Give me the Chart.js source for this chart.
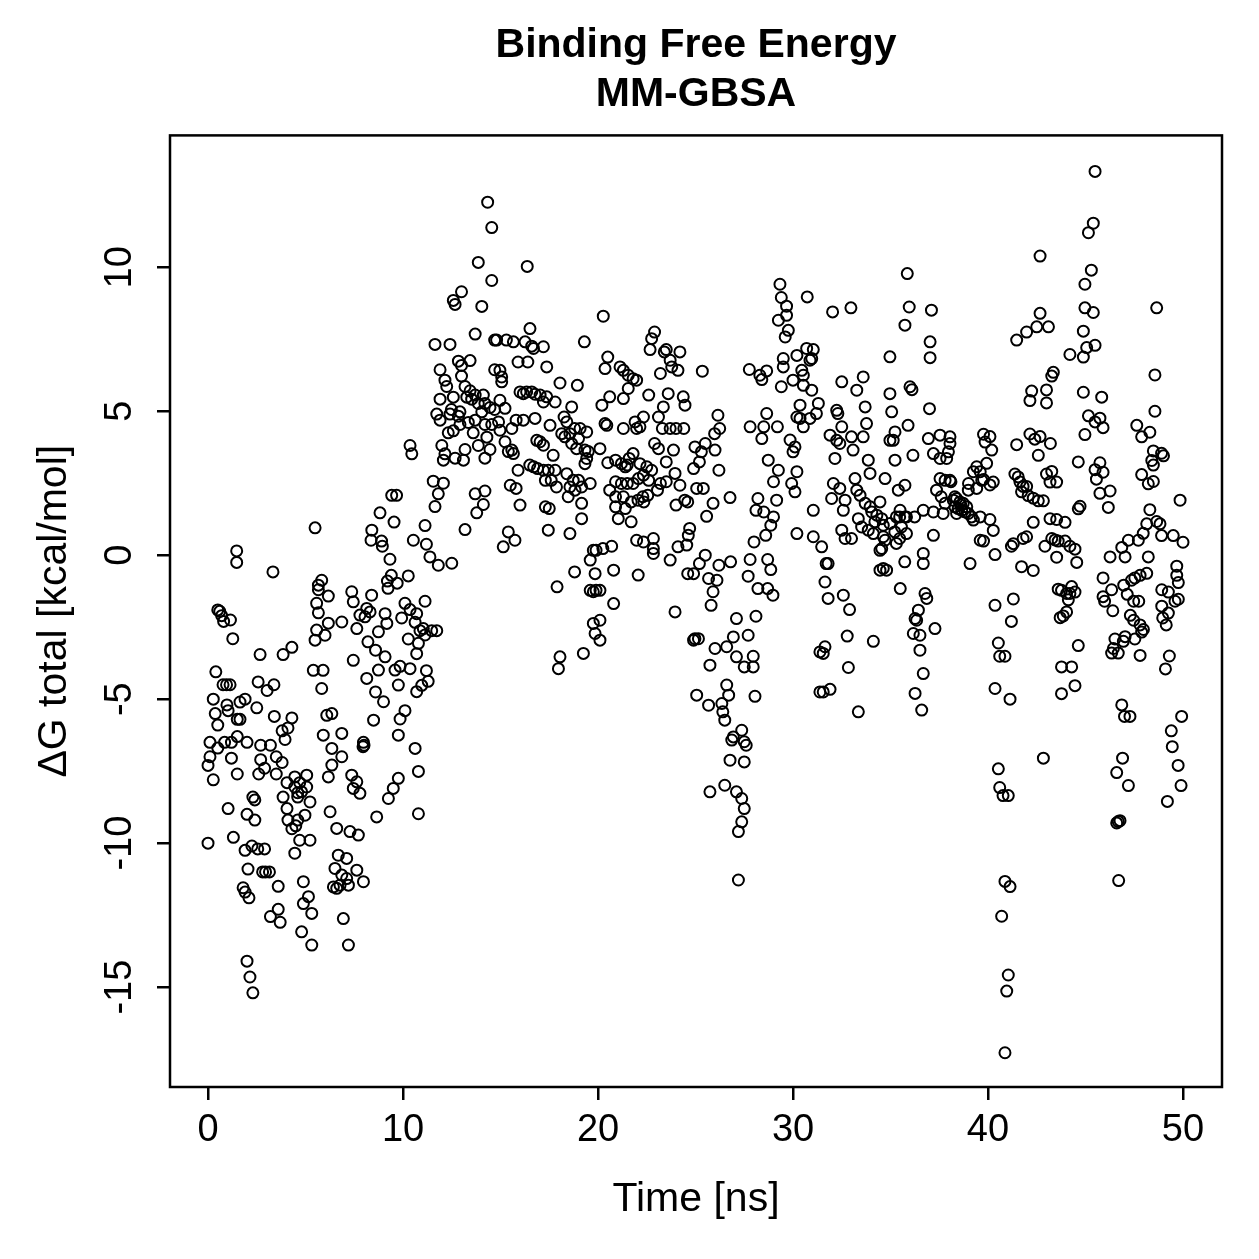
<!DOCTYPE html>
<html><head><meta charset="utf-8">
<style>html,body{margin:0;padding:0;background:#fff;} canvas{display:block;}</style>
<script src="https://cdn.jsdelivr.net/npm/chart.js@4.4.1/dist/chart.umd.min.js"></script>
</head><body>
<canvas id="c" width="1259" height="1259"></canvas>
<script>
const titleLines = ['Binding Free Energy', 'MM-GBSA'];
const xAxisTitle = 'Time [ns]';
const yAxisTitle = 'ΔG total [kcal/mol]';
const xTickValues = [0, 10, 20, 30, 40, 50];
const yTickValues = [-15, -10, -5, 0, 5, 10];

// [time (ns), ΔG total (kcal/mol)], 5 ns per array
const pts00to05 = [[0.00,-10.00],[0.00,-7.30],[0.10,-7.00],[0.10,-6.50],[0.27,-5.00],[0.27,-7.80],[0.37,-5.50],[0.40,-4.05],[0.50,-1.90],[0.50,-5.90],[0.50,-6.70],[0.60,-1.95],[0.70,-2.10],[0.77,-4.50],[0.80,-2.30],[0.85,-6.50],[0.95,-4.50],[0.97,-5.20],[1.03,-5.40],[1.03,-8.80],[1.13,-4.50],[1.15,-2.25],[1.20,-6.50],[1.20,-7.05],[1.27,-2.90],[1.30,-9.80],[1.47,0.15],[1.47,-0.25],[1.50,-5.70],[1.50,-6.30],[1.50,-7.60],[1.64,-5.10],[1.64,-5.70],[1.80,-11.55],[1.90,-5.00],[1.90,-10.25],[1.90,-11.70],[2.00,-6.50],[2.00,-9.00],[2.00,-14.10],[2.05,-10.90],[2.10,-11.90],[2.15,-14.65],[2.25,-10.10],[2.30,-8.40],[2.30,-15.20],[2.40,-8.50],[2.40,-9.20],[2.50,-5.30],[2.55,-10.20],[2.57,-4.40],[2.60,-7.60],[2.67,-3.45],[2.70,-6.60],[2.70,-7.10],[2.80,-11.00],[2.90,-7.40],[2.90,-10.20],[2.95,-11.00],[3.03,-4.70],[3.15,-11.00],[3.20,-6.60],[3.20,-12.55],[3.33,-0.58],[3.38,-4.50],[3.40,-5.60],[3.50,-7.00],[3.50,-7.60],[3.60,-11.50],[3.60,-12.30],[3.70,-12.75],[3.80,-6.10],[3.80,-7.20],[3.85,-3.45],[3.85,-8.40],[3.95,-6.40],[4.05,-7.90],[4.05,-8.80],[4.10,-6.00],[4.10,-9.20],[4.30,-3.20],[4.30,-5.65],[4.30,-9.50],[4.45,-7.70],[4.45,-8.05],[4.45,-10.35],[4.50,-9.40],[4.60,-8.25],[4.60,-8.40],[4.60,-9.20],[4.70,-7.90],[4.70,-9.90]];
const pts05to10 = [[4.80,-8.22],[4.80,-13.08],[4.89,-11.34],[4.89,-12.10],[4.97,-9.03],[5.06,-7.64],[5.06,-8.05],[5.15,-11.86],[5.23,-8.57],[5.23,-9.90],[5.32,-12.44],[5.32,-13.54],[5.40,-4.00],[5.49,0.95],[5.49,-2.95],[5.57,-1.67],[5.57,-2.60],[5.66,-1.04],[5.66,-1.20],[5.66,-2.00],[5.83,-0.87],[5.83,-4.63],[5.90,-4.00],[5.91,-6.25],[6.00,-2.78],[6.09,-5.56],[6.17,-1.42],[6.17,-2.36],[6.17,-7.70],[6.26,-8.91],[6.35,-5.50],[6.35,-6.71],[6.35,-7.29],[6.43,-11.52],[6.51,-10.88],[6.60,-9.49],[6.60,-11.57],[6.68,-10.42],[6.77,-11.46],[6.86,-2.32],[6.86,-6.19],[6.86,-7.00],[6.86,-11.11],[6.94,-12.62],[7.11,-10.53],[7.11,-11.23],[7.20,-11.46],[7.20,-13.54],[7.28,-9.60],[7.37,-1.27],[7.37,-7.64],[7.45,-1.62],[7.45,-3.65],[7.45,-8.10],[7.63,-2.55],[7.63,-7.87],[7.63,-10.94],[7.71,-9.72],[7.79,-2.08],[7.79,-8.27],[7.95,-6.65],[7.97,-6.50],[7.97,-11.34],[8.00,-6.60],[8.05,-2.14],[8.14,-1.85],[8.14,-4.28],[8.20,-3.01],[8.31,-1.97],[8.36,0.52],[8.39,-1.39],[8.40,0.87],[8.49,-5.73],[8.59,-3.30],[8.59,-4.75],[8.65,-9.09],[8.74,-2.66],[8.74,-3.99],[8.82,1.47],[8.90,0.49],[8.94,0.31],[9.00,-5.09],[9.08,-2.03],[9.08,-3.53],[9.17,-2.37],[9.20,-0.90],[9.23,-1.15],[9.25,-8.45],[9.33,-0.14],[9.40,-0.70],[9.42,2.08],[9.50,-8.10],[9.54,1.15],[9.59,-3.99],[9.67,2.08],[9.70,-0.97],[9.76,-4.51],[9.76,-6.25],[9.76,-7.75]];
const pts10to15 = [[9.85,-3.86],[9.85,-5.69],[9.93,-2.18],[10.10,-1.67],[10.10,-5.40],[10.27,-0.72],[10.27,-2.91],[10.36,-1.89],[10.36,-3.94],[10.36,3.81],[10.45,3.52],[10.53,0.52],[10.62,-2.33],[10.62,-6.71],[10.70,-2.03],[10.70,-3.42],[10.70,-4.74],[10.79,-3.06],[10.79,-7.51],[10.79,-8.98],[10.87,-2.62],[10.96,-4.52],[11.04,-2.55],[11.13,-1.60],[11.13,-2.77],[11.13,1.03],[11.20,-4.01],[11.20,0.38],[11.29,-4.38],[11.38,-0.06],[11.47,-2.62],[11.55,2.57],[11.64,1.69],[11.64,7.32],[11.73,-2.62],[11.73,4.90],[11.81,2.13],[11.81,-0.35],[11.90,6.44],[11.90,5.42],[11.90,4.69],[11.99,3.81],[12.07,2.50],[12.07,3.30],[12.15,6.08],[12.15,3.52],[12.24,5.86],[12.32,4.25],[12.41,7.32],[12.41,4.90],[12.48,5.06],[12.50,-0.28],[12.58,8.85],[12.58,5.49],[12.58,4.32],[12.67,8.71],[12.67,3.37],[12.84,6.74],[12.84,4.83],[12.92,4.98],[12.92,4.54],[13.00,9.15],[13.00,6.59],[13.00,6.22],[13.10,3.30],[13.18,5.86],[13.18,3.67],[13.18,0.89],[13.27,5.49],[13.35,4.61],[13.44,6.76],[13.44,5.71],[13.52,5.42],[13.60,4.25],[13.70,7.68],[13.70,5.56],[13.70,4.69],[13.70,2.13],[13.78,1.47],[13.86,10.17],[13.86,5.27],[13.86,3.81],[14.04,8.64],[14.04,4.98],[14.12,5.56],[14.12,1.76],[14.20,5.27],[14.20,4.54],[14.20,3.37],[14.20,2.23],[14.30,4.10],[14.34,12.26],[14.46,5.13],[14.46,3.67],[14.55,11.38],[14.55,9.54],[14.55,4.54],[14.70,7.47],[14.70,6.44],[14.70,5.06]];
const pts15to20 = [[14.80,7.47],[14.90,4.63],[14.97,6.42],[14.97,5.38],[14.97,4.34],[15.06,6.19],[15.06,6.02],[15.14,0.29],[15.23,5.10],[15.23,3.94],[15.30,7.47],[15.40,3.60],[15.40,0.81],[15.50,2.43],[15.58,4.40],[15.58,3.65],[15.66,7.41],[15.66,3.53],[15.74,0.52],[15.80,4.69],[15.80,2.32],[15.90,6.71],[15.90,2.95],[16.00,5.67],[16.00,1.74],[16.17,5.61],[16.17,4.69],[16.26,7.41],[16.34,5.67],[16.37,10.03],[16.40,6.71],[16.50,3.13],[16.51,7.87],[16.60,7.26],[16.60,5.67],[16.69,7.18],[16.70,3.07],[16.77,5.59],[16.77,4.75],[16.86,3.99],[16.90,3.01],[17.03,5.56],[17.03,3.94],[17.20,7.24],[17.20,5.32],[17.20,3.82],[17.20,2.95],[17.30,2.60],[17.30,1.68],[17.37,6.54],[17.37,5.50],[17.45,2.95],[17.45,0.87],[17.50,1.62],[17.54,4.51],[17.60,2.60],[17.70,3.47],[17.80,5.32],[17.80,2.95],[17.87,2.37],[17.90,-1.10],[17.97,-3.94],[18.05,5.98],[18.05,-3.53],[18.14,4.22],[18.26,4.80],[18.30,4.11],[18.40,4.63],[18.40,2.83],[18.47,2.03],[18.56,4.22],[18.56,2.37],[18.56,0.75],[18.65,5.15],[18.65,3.88],[18.73,2.60],[18.80,4.40],[18.80,-0.58],[18.82,2.26],[18.90,3.70],[18.94,5.90],[19.00,4.05],[19.00,2.60],[19.08,4.40],[19.16,2.37],[19.16,1.80],[19.16,1.27],[19.25,-3.41],[19.30,7.41],[19.33,3.65],[19.33,3.18],[19.42,4.28],[19.42,3.36],[19.50,3.60],[19.60,2.49],[19.60,-0.17],[19.60,-1.22],[19.76,0.17],[19.76,-1.27],[19.76,-2.37]];
const pts20to25 = [[19.85,-0.64],[19.85,-2.72],[19.90,0.17],[19.90,-1.22],[20.10,3.70],[20.10,-1.22],[20.10,-2.26],[20.10,-2.95],[20.20,5.21],[20.25,0.23],[20.27,8.30],[20.36,6.48],[20.36,4.57],[20.45,4.51],[20.50,6.88],[20.50,3.21],[20.60,5.50],[20.60,2.26],[20.70,0.31],[20.80,-0.52],[20.80,-1.68],[20.90,3.30],[20.90,2.55],[20.90,2.03],[20.90,1.68],[21.04,1.27],[21.13,6.54],[21.20,3.18],[21.20,2.49],[21.30,6.42],[21.30,5.44],[21.30,4.40],[21.30,2.03],[21.40,3.07],[21.40,1.62],[21.50,3.13],[21.50,2.49],[21.55,6.25],[21.55,5.79],[21.60,3.36],[21.70,1.85],[21.70,1.16],[21.80,6.13],[21.80,3.53],[21.80,2.49],[21.90,4.63],[21.98,6.08],[21.98,4.40],[21.98,0.52],[22.05,1.91],[22.06,-0.69],[22.07,2.66],[22.15,4.46],[22.15,3.18],[22.30,2.03],[22.33,4.80],[22.33,2.78],[22.33,0.46],[22.35,1.85],[22.50,3.07],[22.55,2.08],[22.60,5.56],[22.60,2.60],[22.67,7.14],[22.75,7.52],[22.75,2.95],[22.84,0.58],[22.84,0.23],[22.84,0.06],[22.90,7.75],[22.90,3.88],[23.05,2.26],[23.10,4.80],[23.10,3.70],[23.20,6.31],[23.20,2.49],[23.30,4.40],[23.35,5.15],[23.40,7.06],[23.50,7.14],[23.50,3.24],[23.50,2.55],[23.60,5.61],[23.70,6.77],[23.70,4.40],[23.70,-0.17],[23.78,6.54],[23.87,3.65],[23.95,2.84],[23.95,-1.97],[24.00,4.40],[24.00,1.74],[24.10,6.42],[24.10,0.29],[24.20,7.06],[24.20,2.43],[24.37,5.50],[24.40,4.40],[24.45,1.91],[24.46,5.21],[24.55,0.35],[24.60,1.85],[24.60,-0.64],[24.63,0.69],[24.70,0.93]];
const pts25to30 = [[24.90,3.01],[24.90,-0.64],[24.90,-2.95],[24.97,3.76],[24.97,-2.90],[25.06,2.32],[25.06,-4.86],[25.15,-2.90],[25.20,3.24],[25.20,-0.29],[25.30,3.59],[25.35,6.39],[25.40,2.32],[25.50,3.88],[25.50,0.00],[25.57,1.35],[25.67,-0.81],[25.67,-5.21],[25.74,-3.82],[25.74,-8.22],[25.80,-1.74],[25.90,1.80],[25.90,-1.27],[25.98,4.22],[26.00,3.65],[26.00,-3.24],[26.10,-0.87],[26.15,4.86],[26.20,2.95],[26.20,-0.35],[26.24,4.40],[26.35,-5.15],[26.40,-5.44],[26.50,-5.73],[26.50,-7.99],[26.60,-3.18],[26.60,-4.51],[26.70,-4.86],[26.77,2.00],[26.77,-7.12],[26.80,-0.23],[26.86,-6.42],[26.94,-2.84],[26.94,-6.31],[27.10,-2.20],[27.10,-3.53],[27.10,-8.22],[27.20,-9.60],[27.20,-11.28],[27.37,-6.08],[27.37,-8.45],[27.37,-9.26],[27.50,-3.88],[27.50,-6.48],[27.50,-7.18],[27.50,-8.80],[27.60,-6.60],[27.70,-2.78],[27.70,-0.73],[27.76,6.45],[27.80,4.46],[27.80,-0.15],[27.96,-3.51],[27.96,-3.88],[28.00,0.46],[28.05,-4.90],[28.10,1.56],[28.10,-2.12],[28.20,1.97],[28.20,-1.16],[28.30,6.25],[28.40,6.10],[28.40,4.05],[28.50,4.46],[28.50,1.50],[28.60,0.69],[28.65,6.40],[28.65,4.92],[28.70,-0.15],[28.70,-1.16],[28.73,3.30],[28.86,1.04],[28.86,-0.50],[28.97,-1.39],[29.00,2.55],[29.00,1.33],[29.16,1.91],[29.20,4.46],[29.25,8.16],[29.25,2.95],[29.33,9.41],[29.40,8.95],[29.40,5.85],[29.50,6.83],[29.50,6.54],[29.60,7.58],[29.67,8.65],[29.67,8.33],[29.76,7.81]];
const pts30to35 = [[29.85,4.00],[29.93,2.49],[30.00,6.08],[30.00,3.59],[30.10,3.76],[30.10,2.20],[30.20,6.94],[30.20,4.80],[30.20,2.90],[30.20,0.75],[30.36,5.21],[30.36,4.75],[30.45,6.42],[30.53,6.25],[30.53,5.90],[30.53,4.46],[30.70,7.18],[30.73,8.97],[30.87,6.77],[30.87,4.75],[30.96,6.83],[30.96,5.73],[31.04,7.14],[31.04,1.56],[31.04,0.64],[31.20,4.92],[31.30,5.27],[31.38,-3.36],[31.38,-4.75],[31.47,0.29],[31.55,-3.41],[31.55,-4.75],[31.64,-0.93],[31.64,-3.18],[31.70,-0.29],[31.80,-0.29],[31.80,-1.50],[31.90,4.17],[31.90,-4.66],[31.98,1.97],[32.03,8.45],[32.07,2.49],[32.15,3.36],[32.24,5.03],[32.24,3.99],[32.30,4.92],[32.40,3.88],[32.40,2.32],[32.50,6.02],[32.50,4.46],[32.50,0.87],[32.58,1.56],[32.58,-1.39],[32.67,1.91],[32.67,0.58],[32.78,-2.81],[32.84,-3.90],[32.90,-1.89],[32.97,8.59],[33.00,4.11],[33.00,0.58],[33.08,3.65],[33.18,2.66],[33.27,5.73],[33.27,2.26],[33.35,1.27],[33.35,-5.44],[33.44,2.08],[33.52,0.98],[33.60,6.19],[33.60,4.11],[33.70,5.15],[33.70,1.80],[33.77,4.57],[33.86,3.30],[33.86,0.87],[33.95,2.84],[33.95,1.68],[34.04,1.50],[34.12,0.75],[34.12,-2.99],[34.20,1.16],[34.30,1.39],[34.46,1.85],[34.46,0.17],[34.46,-0.52],[34.55,1.27],[34.55,0.23],[34.63,1.04],[34.63,0.64],[34.63,-0.46],[34.72,2.66],[34.72,0.52],[34.80,-0.52],[34.97,6.89],[34.97,5.61],[34.97,3.99],[34.97,1.10],[35.06,4.98]];
const pts35to40 = [[35.14,3.99],[35.22,0.81],[35.23,4.28],[35.23,3.30],[35.30,0.41],[35.30,1.33],[35.40,2.26],[35.47,1.33],[35.47,0.58],[35.49,1.56],[35.50,-1.16],[35.56,0.98],[35.73,1.33],[35.73,-0.23],[35.74,7.99],[35.74,2.43],[35.82,1.33],[35.82,0.75],[35.86,9.78],[35.90,4.51],[35.96,8.62],[36.00,5.85],[36.10,5.75],[36.15,3.47],[36.17,-2.72],[36.24,1.33],[36.26,-2.20],[36.26,-4.80],[36.34,-2.26],[36.43,-1.91],[36.51,-2.78],[36.51,-3.30],[36.60,-5.38],[36.68,1.56],[36.68,0.06],[36.68,-0.29],[36.68,-4.11],[36.77,-1.33],[36.86,-1.50],[36.94,4.05],[37.00,5.09],[37.03,7.41],[37.03,6.86],[37.10,8.51],[37.20,3.53],[37.20,1.50],[37.20,0.69],[37.28,-2.55],[37.36,2.26],[37.54,4.17],[37.54,3.36],[37.54,2.66],[37.60,2.03],[37.70,1.45],[37.80,2.60],[37.80,1.80],[37.88,3.36],[37.97,3.59],[38.05,4.11],[38.05,3.88],[38.05,2.60],[38.10,2.55],[38.22,1.91],[38.30,2.03],[38.30,1.68],[38.39,1.97],[38.39,1.45],[38.47,1.62],[38.56,1.85],[38.60,1.74],[38.65,1.56],[38.73,1.80],[38.82,1.50],[38.91,1.68],[38.99,2.26],[38.99,1.45],[39.00,2.49],[39.08,-0.29],[39.16,1.33],[39.25,2.90],[39.25,1.22],[39.42,3.07],[39.42,2.32],[39.60,2.90],[39.60,1.33],[39.60,0.52],[39.68,2.60]];
const pts40to45 = [[39.77,4.20],[39.77,2.63],[39.77,0.49],[39.85,3.93],[39.93,3.19],[40.10,4.12],[40.10,2.44],[40.10,1.24],[40.19,3.65],[40.27,2.54],[40.27,0.86],[40.36,0.02],[40.36,-1.74],[40.36,-4.63],[40.53,-3.05],[40.53,-7.42],[40.60,-3.51],[40.60,-8.07],[40.70,-12.54],[40.77,-8.35],[40.87,-3.51],[40.87,-11.33],[40.87,-17.28],[40.96,-15.14],[41.04,-8.35],[41.04,-14.58],[41.13,-5.00],[41.13,-11.51],[41.20,0.31],[41.20,-2.30],[41.30,0.40],[41.30,-1.52],[41.38,2.82],[41.47,7.47],[41.47,3.84],[41.55,2.72],[41.64,2.54],[41.72,2.20],[41.72,-0.40],[41.80,2.39],[41.80,0.58],[41.98,7.75],[41.98,2.39],[41.98,0.64],[42.06,2.07],[42.15,5.37],[42.15,4.21],[42.24,5.70],[42.32,1.98],[42.32,1.14],[42.32,-0.53],[42.40,4.03],[42.50,7.93],[42.58,3.47],[42.58,1.89],[42.67,10.39],[42.67,8.40],[42.67,4.12],[42.84,1.89],[42.84,-7.05],[42.92,0.31],[43.00,5.74],[43.00,5.29],[43.00,2.82],[43.10,7.93],[43.18,2.54],[43.18,1.27],[43.20,3.88],[43.27,6.22],[43.27,2.91],[43.27,0.58],[43.35,6.35],[43.44,0.53],[43.52,2.54],[43.52,1.24],[43.52,-0.07],[43.60,0.49],[43.60,-1.18],[43.70,-2.17],[43.77,-1.22],[43.77,-3.88],[43.77,-4.81],[43.86,-2.11],[43.95,1.14],[43.95,0.49],[44.03,-1.33],[44.03,-1.97],[44.12,-1.55],[44.20,6.97],[44.20,0.31],[44.20,-1.33],[44.29,-1.09],[44.29,-3.88],[44.46,0.21],[44.46,-1.28],[44.46,-4.53],[44.55,-0.25],[44.63,3.24],[44.63,1.61],[44.63,-3.14],[44.72,1.70]];
const pts45to50 = [[44.89,7.78],[44.89,6.88],[44.89,5.66],[44.97,9.41],[44.97,8.59],[44.97,4.19],[45.06,7.21],[45.15,11.20],[45.15,4.84],[45.30,9.90],[45.40,11.53],[45.40,8.43],[45.49,13.33],[45.49,7.29],[45.49,4.63],[45.49,2.97],[45.56,2.64],[45.74,4.76],[45.74,3.21],[45.74,2.15],[45.83,5.49],[45.90,4.43],[45.90,2.88],[45.90,-0.79],[45.90,-1.44],[45.98,-1.60],[46.17,1.66],[46.26,2.23],[46.26,-0.06],[46.34,-1.20],[46.34,-3.40],[46.40,-1.93],[46.43,-3.24],[46.51,-2.91],[46.60,-7.55],[46.60,-9.30],[46.68,-3.40],[46.68,-9.25],[46.70,-11.30],[46.77,-9.22],[46.86,0.27],[46.86,-5.20],[46.90,-7.05],[46.94,-2.99],[46.96,-1.04],[47.00,-5.60],[47.03,-0.06],[47.03,-2.83],[47.14,-1.36],[47.20,0.52],[47.20,-8.00],[47.28,-5.60],[47.30,-2.09],[47.36,-0.87],[47.47,-1.60],[47.47,-2.26],[47.53,-0.79],[47.53,-2.91],[47.63,4.51],[47.71,0.52],[47.73,-1.60],[47.80,-0.70],[47.80,-2.42],[47.80,-3.48],[47.88,4.11],[47.88,2.80],[47.88,-2.67],[47.96,0.76],[47.97,-2.58],[48.14,1.09],[48.14,-0.63],[48.22,2.48],[48.22,-0.06],[48.30,4.27],[48.30,1.58],[48.40,3.29],[48.48,3.62],[48.48,3.13],[48.48,2.56],[48.56,6.26],[48.56,5.00],[48.65,8.59],[48.65,1.17],[48.82,1.09],[48.90,3.54],[48.90,0.68],[48.91,-1.20],[48.91,-1.77],[48.96,-2.18],[49.00,3.45],[49.10,-3.95],[49.14,-2.42],[49.20,-8.55],[49.25,-1.28],[49.25,-2.01],[49.30,-3.50],[49.40,-6.10],[49.45,-6.65],[49.50,0.68],[49.59,-1.60],[49.68,-0.38],[49.68,-0.70],[49.75,-7.30],[49.76,-0.95],[49.76,-1.53],[49.85,1.91],[49.90,-8.00],[49.93,-5.60],[50.00,0.45]];

const FONT = '"Liberation Sans", Arial, Helvetica, sans-serif';
const allPoints = [].concat(pts00to05, pts05to10, pts10to15, pts15to20, pts20to25,
  pts25to30, pts30to35, pts35to40, pts40to45, pts45to50).map(([t, g]) => ({x: t, y: g}));

const rFrame = {
  id: 'rFrame',
  afterDraw(chart) {
    const {ctx, chartArea: a, scales: {y}} = chart;
    ctx.save();
    ctx.strokeStyle = '#000';
    ctx.lineWidth = 2.5;
    ctx.strokeRect(a.left, a.top, a.right - a.left, a.bottom - a.top);
    ctx.fillStyle = '#000';
    ctx.font = '38px ' + FONT;
    ctx.textAlign = 'center';
    ctx.textBaseline = 'middle';
    yTickValues.forEach(v => {
      const py = y.getPixelForValue(v);
      ctx.save();
      ctx.translate(121, py);
      ctx.rotate(-Math.PI / 2);
      ctx.fillText(String(v), 0, 0);
      ctx.restore();
    });
    ctx.restore();
  }
};

const tickGrid = {display: true, drawOnChartArea: false, drawTicks: true, tickLength: 13,
  tickWidth: 2.5, tickColor: '#000', color: '#000', lineWidth: 2.5};

new Chart(document.getElementById('c'), {
  type: 'scatter',
  data: {datasets: [{
    data: allPoints,
    pointStyle: 'circle',
    pointRadius: 5.5,
    pointHoverRadius: 5.5,
    borderWidth: 2,
    borderColor: '#000',
    backgroundColor: 'rgba(0,0,0,0)'
  }]},
  options: {
    responsive: false,
    animation: false,
    devicePixelRatio: 1,
    layout: {padding: {left: 0, right: 37, top: 0, bottom: 0}},
    plugins: {
      legend: {display: false},
      tooltip: {enabled: false},
      title: {
        display: true,
        fullSize: false,
        text: titleLines,
        color: '#000',
        font: {family: FONT, size: 41, weight: 'bold', lineHeight: 1.2},
        padding: {top: 21, bottom: 16}
      }
    },
    scales: {
      x: {
        type: 'linear',
        min: -1.95, max: 52.0,
        afterBuildTicks: s => { s.ticks = xTickValues.map(v => ({value: v})); },
        afterFit: s => { s.height = 172; },
        grid: tickGrid,
        border: {display: false},
        ticks: {color: '#000', font: {family: FONT, size: 38}, padding: 8, maxRotation: 0, autoSkip: false,
          callback: v => String(v)},
        title: {display: true, text: xAxisTitle, color: '#000', font: {family: FONT, size: 41},
          padding: {top: 0, bottom: 35}}
      },
      y: {
        type: 'linear',
        min: -18.47, max: 14.58,
        afterBuildTicks: s => { s.ticks = yTickValues.map(v => ({value: v})); },
        afterFit: s => { s.width = 170; },
        grid: tickGrid,
        border: {display: false},
        ticks: {display: false},
        title: {display: true, text: yAxisTitle, color: '#000', font: {family: FONT, size: 41},
          padding: {top: 30, bottom: 0}}
      }
    }
  },
  plugins: [rFrame]
});
</script>
</body></html>
